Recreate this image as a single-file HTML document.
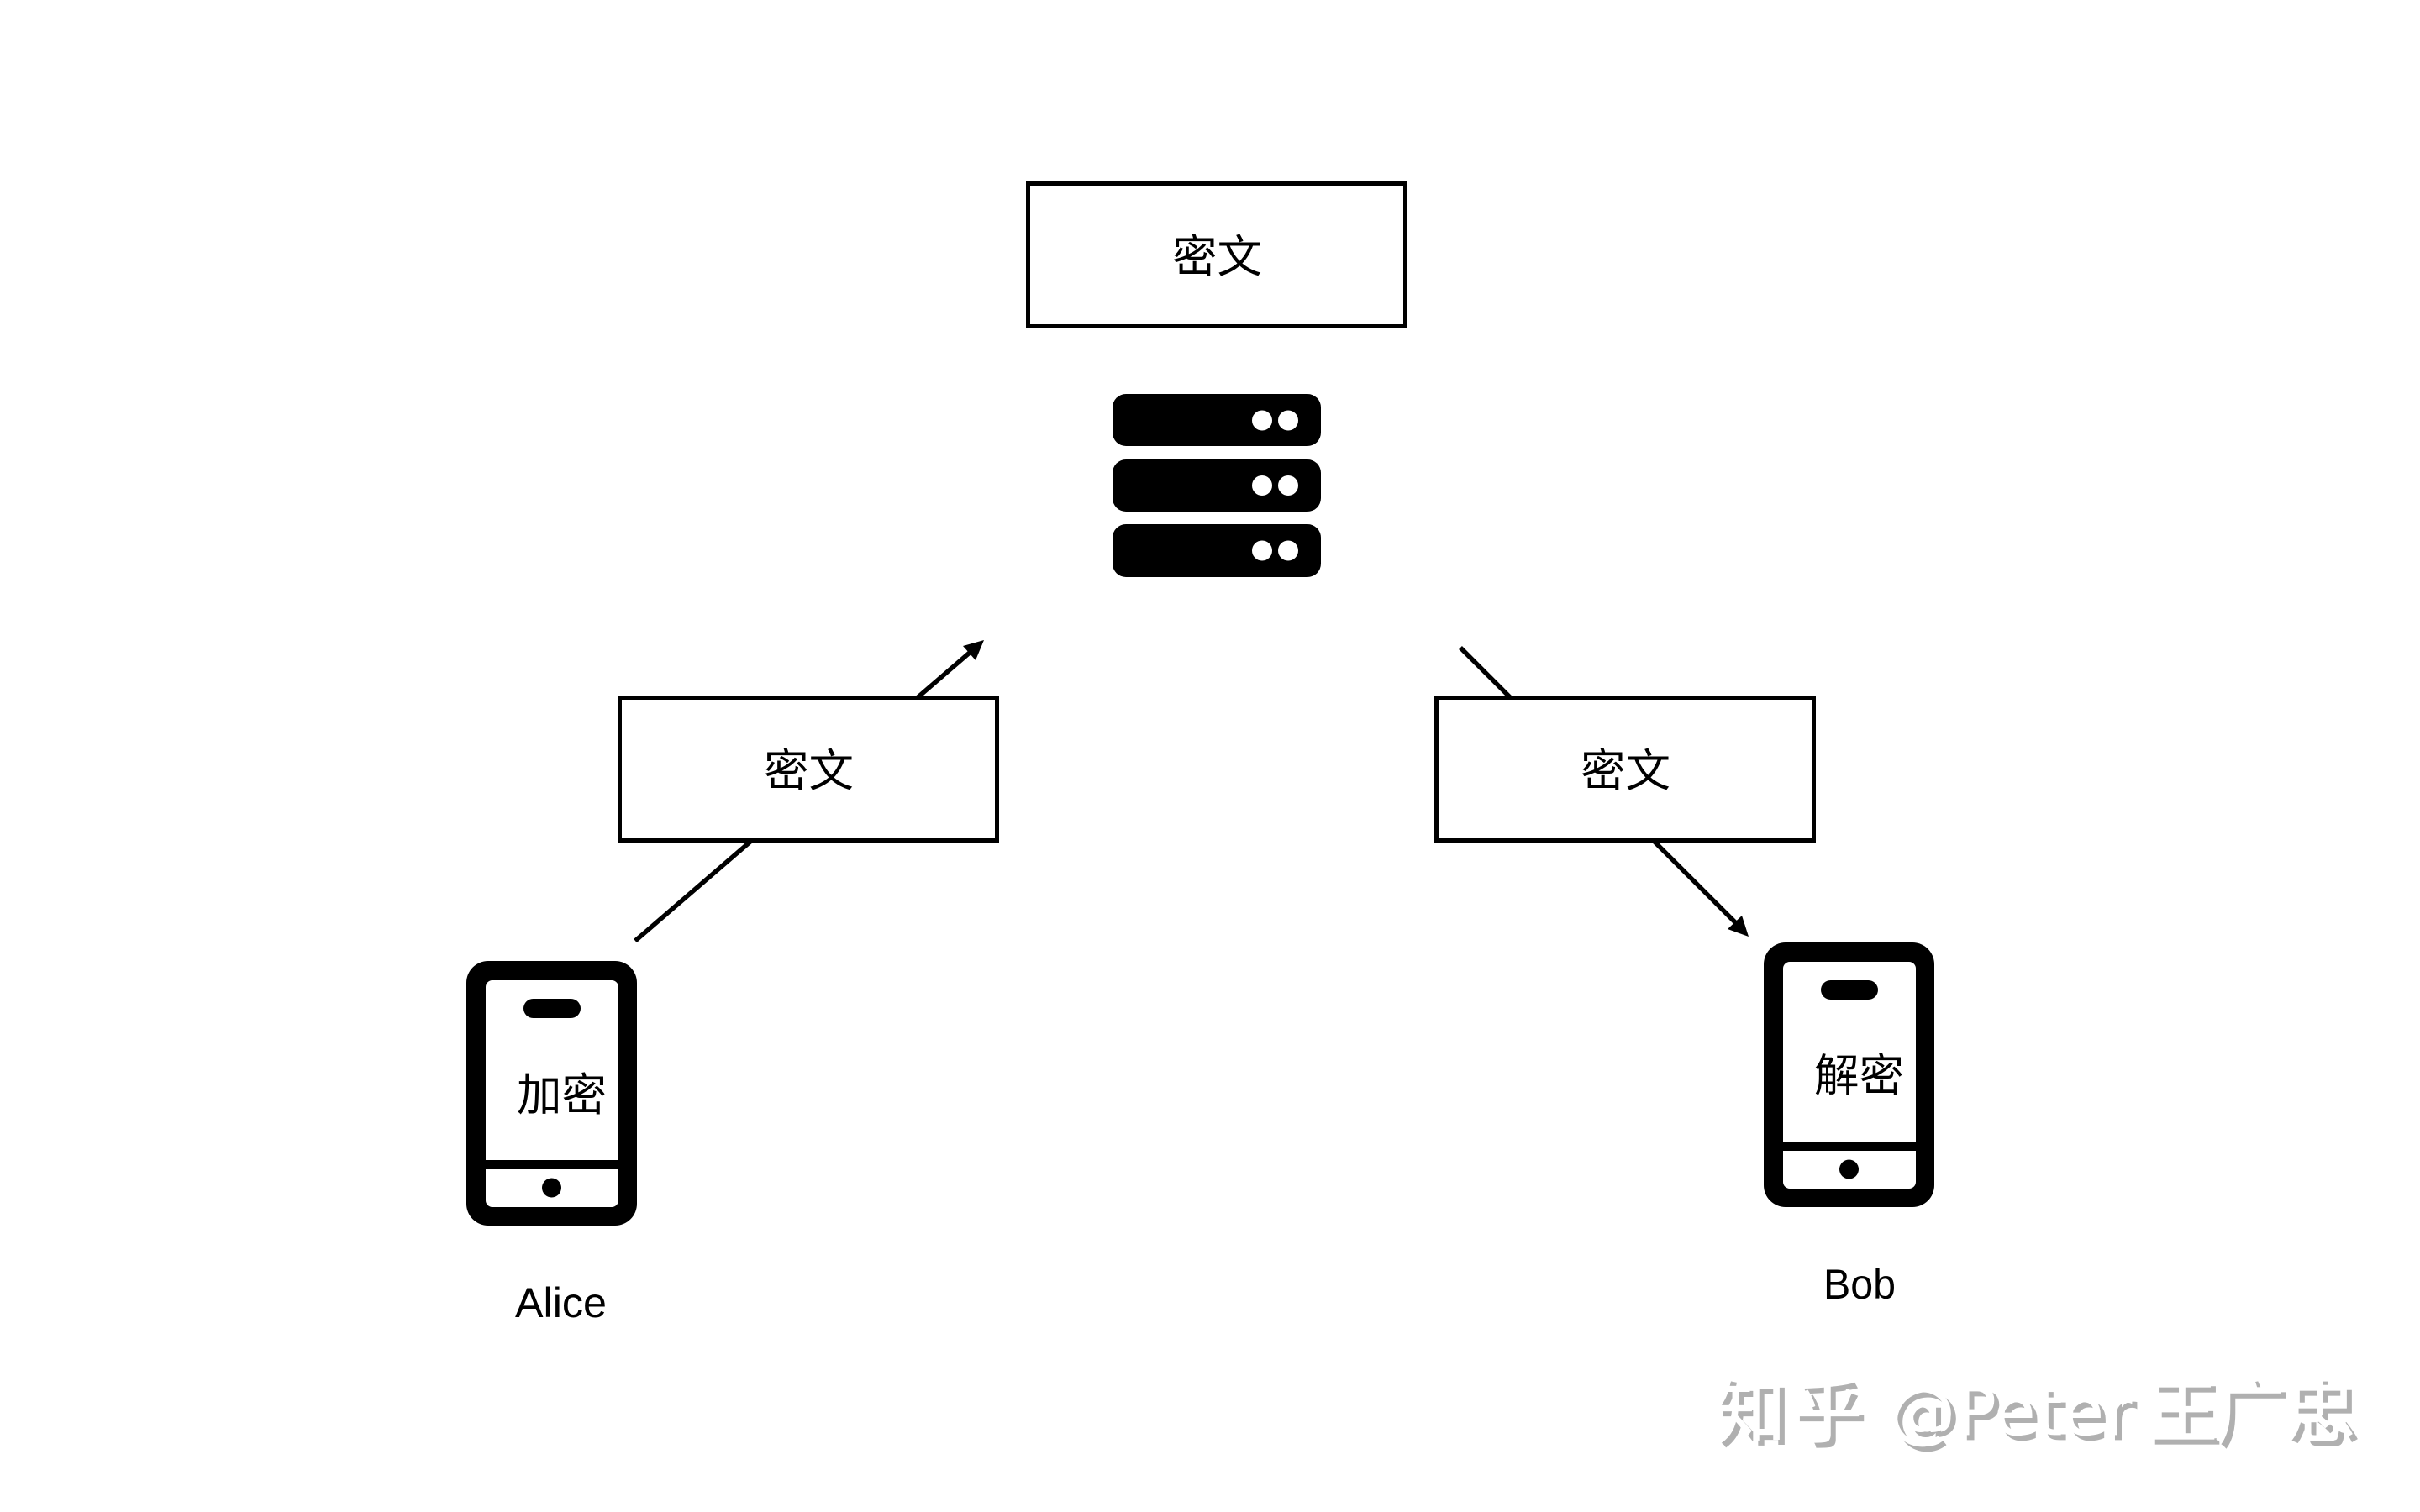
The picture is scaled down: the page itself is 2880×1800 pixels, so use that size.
<!DOCTYPE html>
<html><head><meta charset="utf-8"><style>
html,body{margin:0;padding:0;background:#fff;width:2880px;height:1800px;overflow:hidden}
svg{display:block}
.c{font-family:"Liberation Sans","Noto Sans CJK SC",sans-serif;font-size:53.5px;fill:#000}
.n{font-family:"Liberation Sans",sans-serif;font-size:50px;fill:#000}
.w{font-family:"Noto Sans CJK SC",sans-serif;font-size:84px;stroke-width:1.2px}
.l{font-family:"DejaVu Sans",sans-serif;font-size:80px;stroke-width:.8px}
</style></head><body>
<svg width="2880" height="1800" viewBox="0 0 2880 1800" xmlns="http://www.w3.org/2000/svg">
<rect width="2880" height="1800" fill="#fff"/>
<!-- arrows -->
<line x1="756" y1="1120" x2="1155" y2="776" stroke="#000" stroke-width="5.5"/>
<polygon points="1171,762 1146,769 1161,786" fill="#000"/>
<line x1="1738" y1="771" x2="2066" y2="1099" stroke="#000" stroke-width="5.5"/>
<polygon points="2081,1115 2073,1090 2056,1106" fill="#000"/>
<!-- boxes -->
<rect x="1223.5" y="218.5" width="449" height="170" fill="#fff" stroke="#000" stroke-width="5"/>
<rect x="737.5" y="830.5" width="449" height="170" fill="#fff" stroke="#000" stroke-width="5"/>
<rect x="1709.5" y="830.5" width="449" height="170" fill="#fff" stroke="#000" stroke-width="5"/>
<text class="c" x="1395" y="324">密文</text>
<text class="c" x="909" y="936">密文</text>
<text class="c" x="1881" y="936">密文</text>
<!-- server -->
<g fill="#000">
<rect x="1324" y="469" width="248" height="62" rx="16"/>
<rect x="1324" y="547" width="248" height="62" rx="16"/>
<rect x="1324" y="624" width="248" height="63" rx="16"/>
</g>
<g fill="#fff">
<circle cx="1502" cy="500.5" r="12"/><circle cx="1533" cy="500.5" r="12"/>
<circle cx="1502" cy="578" r="12"/><circle cx="1533" cy="578" r="12"/>
<circle cx="1502" cy="655.5" r="12"/><circle cx="1533" cy="655.5" r="12"/>
</g>
<!-- Alice phone -->
<g>
<rect x="555" y="1144" width="203" height="315" rx="26" fill="#000"/>
<rect x="578" y="1167" width="158" height="270" rx="8" fill="#fff"/>
<rect x="578" y="1381" width="158" height="11" fill="#000"/>
<rect x="623" y="1189" width="68" height="23" rx="11.5" fill="#000"/>
<circle cx="656.5" cy="1414" r="11.5" fill="#000"/>
</g>
<text class="c" x="615" y="1322">加密</text>
<text class="n" x="613" y="1568" textLength="109" lengthAdjust="spacingAndGlyphs">Alice</text>
<!-- Bob phone -->
<g>
<rect x="2099" y="1122" width="203" height="315" rx="26" fill="#000"/>
<rect x="2122" y="1145" width="158" height="270" rx="8" fill="#fff"/>
<rect x="2122" y="1359" width="158" height="11" fill="#000"/>
<rect x="2167" y="1167" width="68" height="23" rx="11.5" fill="#000"/>
<circle cx="2200.5" cy="1392" r="11.5" fill="#000"/>
</g>
<text class="c" x="2159" y="1299">解密</text>
<text class="n" x="2170" y="1546" textLength="86" lengthAdjust="spacingAndGlyphs">Bob</text>
<!-- watermark -->
<g fill="#b0b0b0" stroke="#b0b0b0">
<text class="w" x="2047" y="1716">知</text>
<text class="w" x="2138" y="1716">乎</text>
<text class="l" x="2253" y="1714" textLength="290">@Peter</text>
<text class="w" x="2561" y="1716">王</text>
<text class="w" x="2641" y="1716">广</text>
<text class="w" x="2725" y="1716">忠</text>
</g>
<g fill="#fff" stroke="#fff" transform="translate(-6,-6)">
<text class="w" x="2047" y="1716">知</text>
<text class="w" x="2138" y="1716">乎</text>
<text class="l" x="2253" y="1714" textLength="290">@Peter</text>
<text class="w" x="2561" y="1716">王</text>
<text class="w" x="2641" y="1716">广</text>
<text class="w" x="2725" y="1716">忠</text>
</g>
</svg>
</body></html>
